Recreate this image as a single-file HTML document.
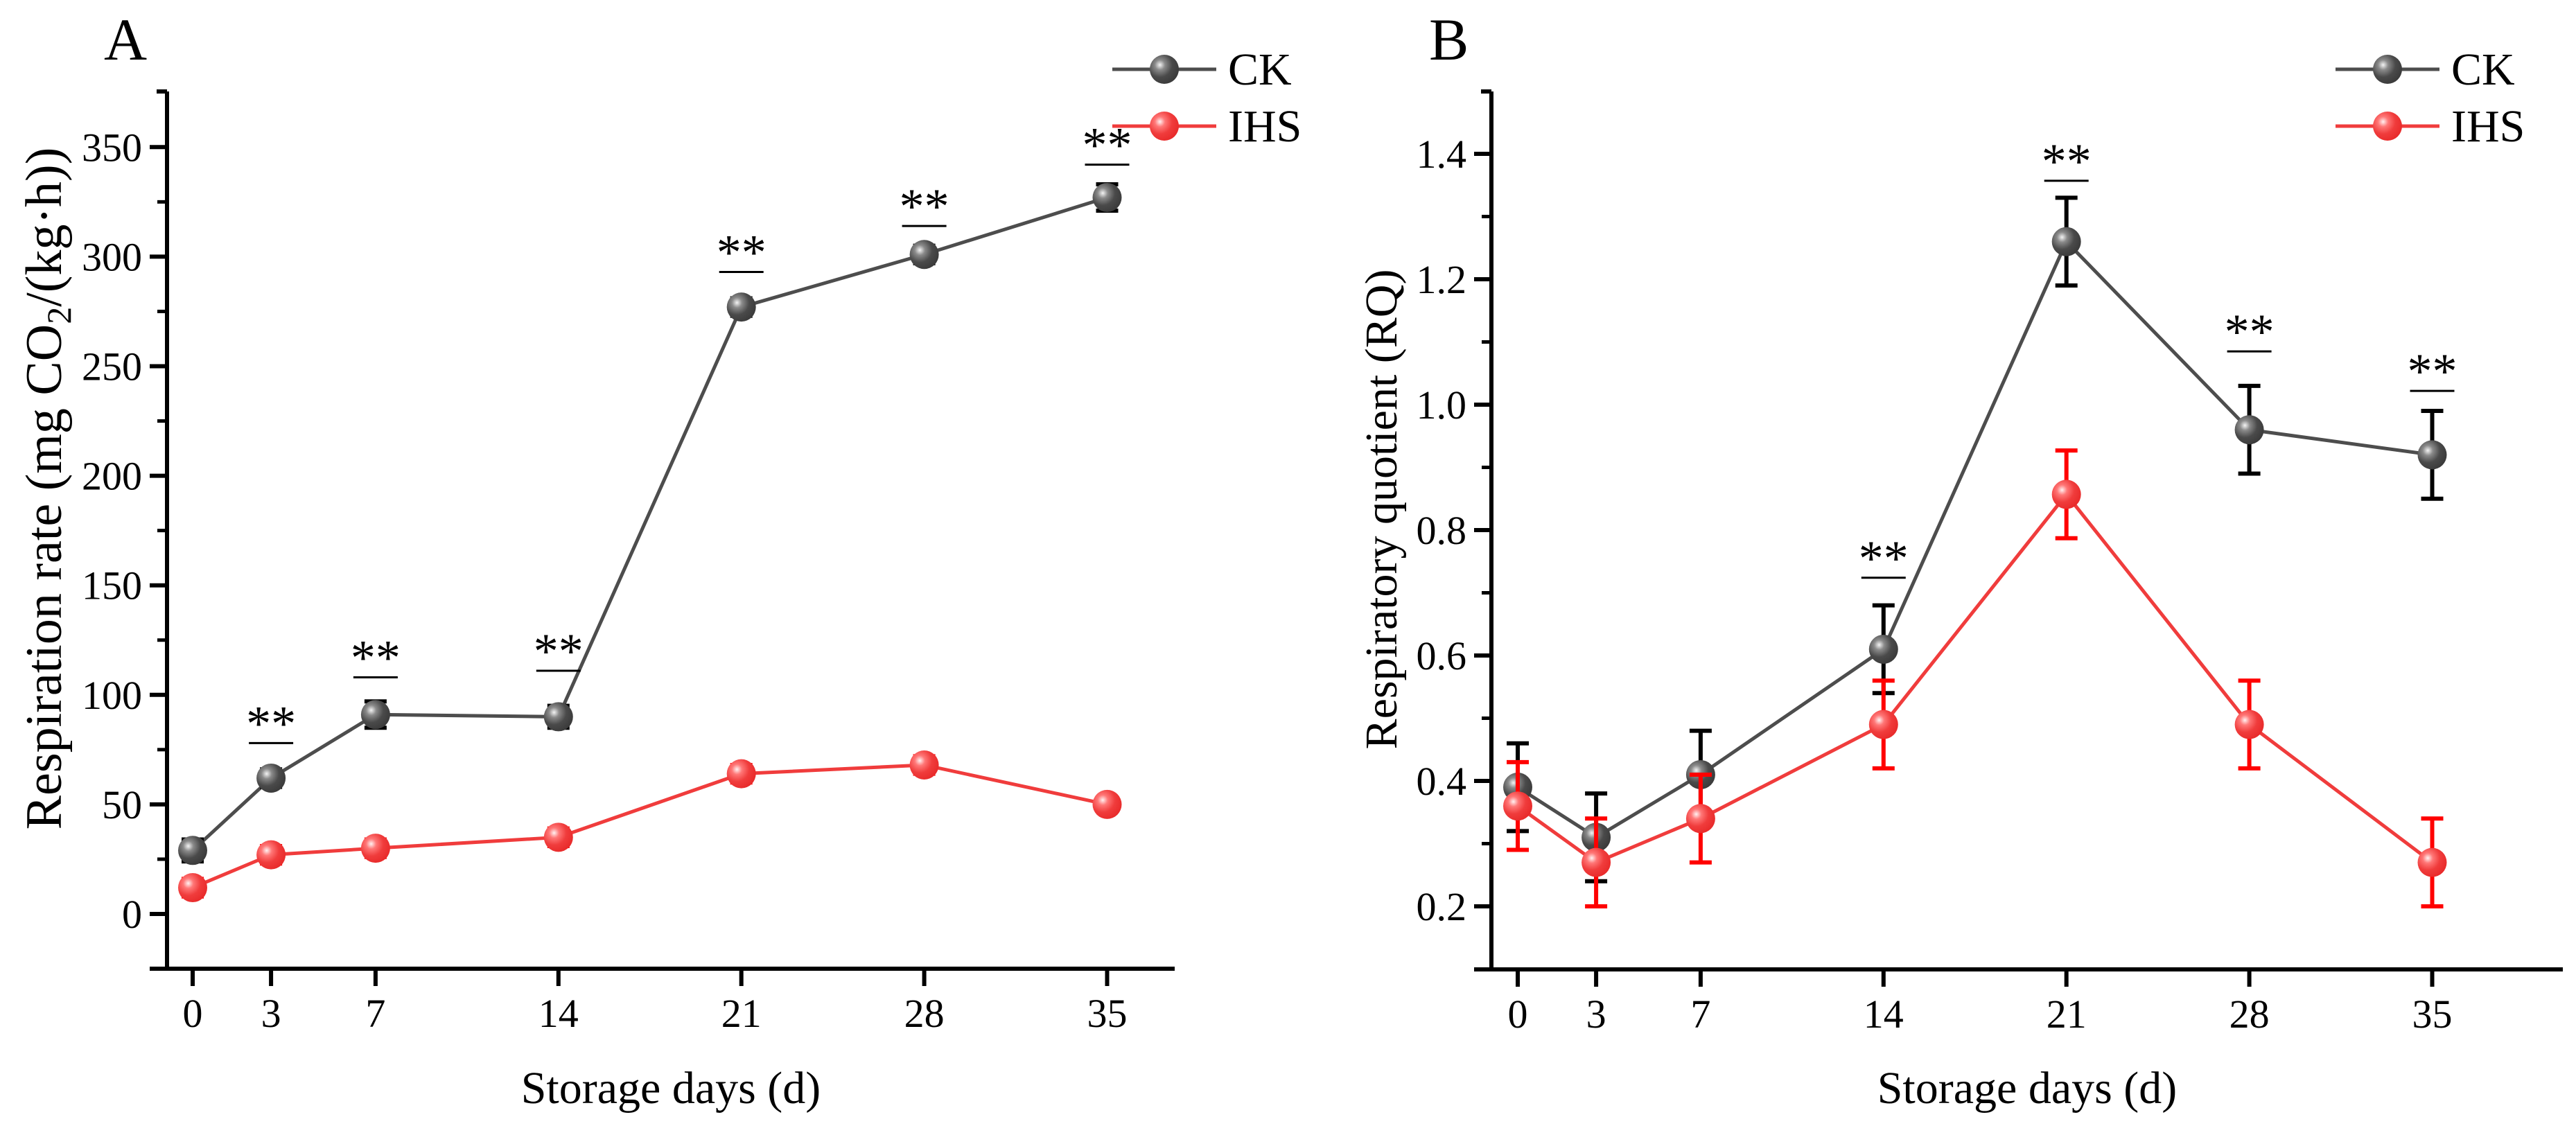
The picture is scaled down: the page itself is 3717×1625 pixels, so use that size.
<!DOCTYPE html>
<html><head><meta charset="utf-8"><style>
html,body{margin:0;padding:0;background:#fff;}
svg{display:block;font-family:"Liberation Serif",serif;}
</style></head><body>
<svg id="fig" width="3717" height="1625" viewBox="0 0 3717 1625" xmlns="http://www.w3.org/2000/svg">
<defs>
<radialGradient id="gk" cx="0.35" cy="0.35" r="0.7"><stop offset="0" stop-color="#f4f4f4"/><stop offset="0.25" stop-color="#8a8a8a"/><stop offset="0.6" stop-color="#4a4a4a"/><stop offset="1" stop-color="#3a3a3a"/></radialGradient>
<radialGradient id="gr" cx="0.35" cy="0.35" r="0.7"><stop offset="0" stop-color="#fff2f2"/><stop offset="0.25" stop-color="#f77"/><stop offset="0.6" stop-color="#f03c3c"/><stop offset="1" stop-color="#e82a2a"/></radialGradient>
</defs>
<g id="A"></g>
<g id="B"></g>
</svg>
<script>
const days = [0, 3, 7, 14, 21, 28, 35];
const aCK = [29, 62, 91, 90, 277, 301, 327];
const aCKerr = [5, 4, 6, 5, 4, 4, 6];
const aIHS = [12, 27, 30, 35, 64, 68, 50];
const aIHSerr = [4, 4, 4, 4, 4, 4, 3];
const aSigDays = [3, 7, 14, 21, 28, 35];
const aSigLevel = [78, 108, 111, 293, 314, 342];
const aTicks = [0, 50, 100, 150, 200, 250, 300, 350];
const bCK = [0.39, 0.31, 0.41, 0.61, 1.26, 0.96, 0.92];
const bCKerr = [0.07, 0.07, 0.07, 0.07, 0.07, 0.07, 0.07];
const bIHS = [0.36, 0.27, 0.34, 0.49, 0.857, 0.49, 0.27];
const bIHSerr = [0.07, 0.07, 0.07, 0.07, 0.07, 0.07, 0.07];
const bSigDays = [14, 21, 28, 35];
const bSigLevel = [0.724, 1.357, 1.085, 1.022];
const bTicks = [0.2, 0.4, 0.6, 0.8, 1.0, 1.2, 1.4];
const bMinor = [0.3, 0.5, 0.7, 0.9, 1.1, 1.3];
const aMinor = [25, 75, 125, 175, 225, 275, 325];

const NS = "http://www.w3.org/2000/svg";
function mk(parent, tag, attrs, text){
  const e = document.createElementNS(NS, tag);
  for (const k in attrs) e.setAttribute(k, attrs[k]);
  if (text !== undefined) e.textContent = text;
  parent.appendChild(e);
  return e;
}

function panel(g, cfg){
  const X = d => cfg.x0 + d * cfg.dx;
  const Y = v => cfg.y0 - (v - cfg.vmin) * cfg.ky;
  const ya = mk(g, 'line', {x1:cfg.ax, y1:cfg.top, x2:cfg.ax, y2:cfg.bottom+3, stroke:'#000','stroke-width':6});
  
  
  const xa = mk(g, 'line', {x1:cfg.ax-25, y1:cfg.bottom, x2:cfg.right, y2:cfg.bottom, stroke:'#000','stroke-width':6});
  
  
  mk(g, 'line', {x1:cfg.ax-15, y1:cfg.top, x2:cfg.ax, y2:cfg.top, stroke:'#000','stroke-width':6});
  cfg.ticks.forEach(t => {
    mk(g, 'line', {x1:cfg.ax-25, y1:Y(t), x2:cfg.ax, y2:Y(t), stroke:'#000','stroke-width':6});
    const tl = mk(g, 'text', {x:cfg.ax-36, y:Y(t)+20, 'font-size':58, 'text-anchor':'end'}, cfg.fmt(t));
    
    
  });
  cfg.minor.forEach(t => {
    mk(g, 'line', {x1:cfg.ax-14, y1:Y(t), x2:cfg.ax, y2:Y(t), stroke:'#000','stroke-width':5});
  });
  days.forEach(d => {
    mk(g, 'line', {x1:X(d), y1:cfg.bottom, x2:X(d), y2:cfg.bottom+25, stroke:'#000','stroke-width':6});
    const xl = mk(g, 'text', {x:X(d), y:cfg.bottom+84, 'font-size':58, 'text-anchor':'middle'}, String(d));
    
    
  });
  const xt = mk(g, 'text', {x:(cfg.ax+cfg.right)/2, y:1592, 'font-size':66, 'text-anchor':'middle'}, 'Storage days (d)');
  
  
  const yt = mk(g, 'text', {x:0, y:0, 'font-size':cfg.ytfs, 'text-anchor':'middle', transform:`translate(${cfg.ytx},${cfg.yty}) rotate(-90)`});
  
  
  cfg.ytitle(yt);
  const pl = mk(g, 'text', {x:cfg.lblx, y:86, 'font-size':86}, cfg.label);
  
  

  cfg.series.forEach(s => {
    const sg = mk(g, 'g', {});
    
    
    const pts = days.map((d,i) => X(d)+','+Y(s.v[i])).join(' ');
    const pline = mk(sg, 'polyline', {points:pts, fill:'none', stroke:s.color, 'stroke-width':5});
    
    
    days.forEach((d,i) => {
      const x = X(d), y1 = Y(s.v[i]+s.e[i]), y2 = Y(s.v[i]-s.e[i]);
      const eb = mk(sg, 'path', {d:`M${x},${y1}V${y2}M${x-16},${y1}H${x+16}M${x-16},${y2}H${x+16}`, stroke:s.ecolor, 'stroke-width':6, fill:'none'});
      
      
    });
    days.forEach((d,i) => {
      const c = mk(sg, 'circle', {cx:X(d), cy:Y(s.v[i]), r:21, fill:s.grad});
      
      
    });
  });
  cfg.sigDays.forEach((d,i) => {
    const y = Y(cfg.sigLevel[i]);
    const sl = mk(g, 'line', {x1:X(d)-32, y1:y, x2:X(d)+32, y2:y, stroke:'#000', 'stroke-width':3});
    
    
    const st = mk(g, 'text', {x:X(d), y:y-4, 'font-size':72, 'text-anchor':'middle'}, '**');
    
    
  });
  const lg = mk(g, 'g', {});
  
  
  cfg.series.forEach((s,i) => {
    const y = 100 + i*82;
    const le = mk(lg, 'g', {});
    
    
    mk(le, 'line', {x1:cfg.legx, y1:y, x2:cfg.legx+150, y2:y, stroke:s.color, 'stroke-width':5});
    mk(le, 'circle', {cx:cfg.legx+75, cy:y, r:21, fill:s.grad});
    mk(le, 'text', {x:cfg.legx+167, y:y+22, 'font-size':66}, s.name);
  });
}

panel(document.getElementById('A'), {
  x0:278, dx:37.7, y0:1319, vmin:0, ky:3.162, ax:241, top:132, bottom:1398, right:1695,
  ticks:aTicks, minor:aMinor, fmt:t=>String(t),
  ytx:88, yty:705, ytfs:74, lblx:150, label:'A', legx:1605,
  ytitle: t => {
    t.appendChild(document.createTextNode('Respiration rate (mg CO'));
    const s = document.createElementNS(NS,'tspan'); s.setAttribute('font-size','50'); s.setAttribute('dy','14'); s.textContent='2'; t.appendChild(s);
    const r = document.createElementNS(NS,'tspan'); r.setAttribute('dy','-14'); r.textContent='/(kg\u00b7h))'; t.appendChild(r);
  },
  series:[
    {name:'CK', v:aCK, e:aCKerr, color:'#4d4d4d', ecolor:'#000', grad:'url(#gk)'},
    {name:'IHS', v:aIHS, e:aIHSerr, color:'#f03c3c', ecolor:'#f00', grad:'url(#gr)'}
  ],
  sigDays:aSigDays, sigLevel:aSigLevel
});

panel(document.getElementById('B'), {
  x0:2190, dx:37.7, y0:1308, vmin:0.2, ky:905, ax:2152, top:132, bottom:1399, right:3698,
  ticks:bTicks, minor:bMinor, fmt:t=>t.toFixed(1),
  ytx:2015, yty:735, ytfs:66, lblx:2062, label:'B', legx:3370,
  ytitle: t => { t.textContent = 'Respiratory quotient (RQ)'; },
  series:[
    {name:'CK', v:bCK, e:bCKerr, color:'#4d4d4d', ecolor:'#000', grad:'url(#gk)'},
    {name:'IHS', v:bIHS, e:bIHSerr, color:'#f03c3c', ecolor:'#f00', grad:'url(#gr)'}
  ],
  sigDays:bSigDays, sigLevel:bSigLevel
});
</script>
</body></html>
